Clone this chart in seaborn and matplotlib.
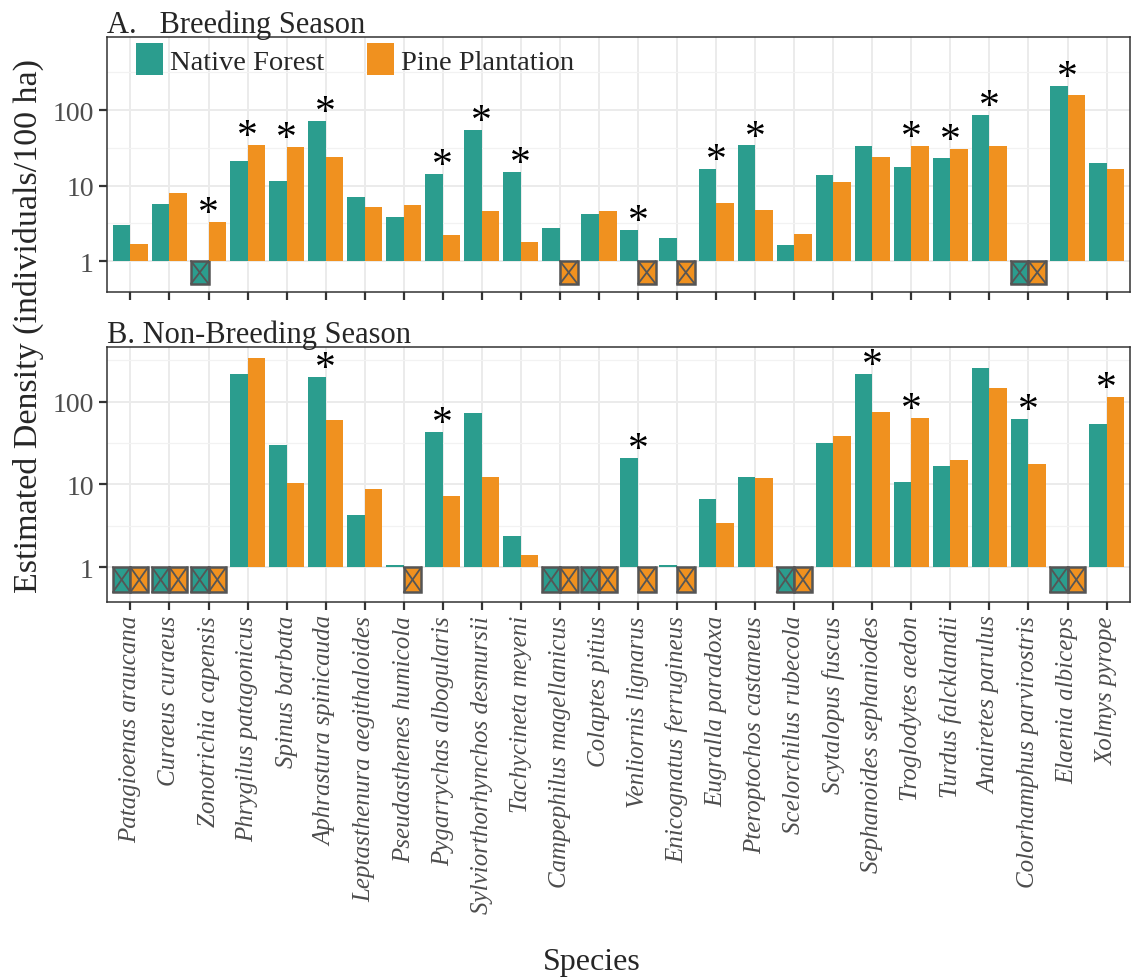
import numpy as np
import pandas as pd
import matplotlib
matplotlib.use("Agg")
import matplotlib.pyplot as plt
import matplotlib.patches as mpatches
import seaborn as sns

# species (same order in both panels)
species = ["Patagioenas araucana", "Curaeus curaeus", "Zonotrichia capensis",
           "Phrygilus patagonicus", "Spinus barbata", "Aphrastura spinicauda",
           "Leptasthenura aegithaloides", "Pseudasthenes humicola",
           "Pygarrychas albogularis", "Sylviorthorhynchos desmursii",
           "Tachycineta meyeni", "Campephilus magellanicus", "Colaptes pitius",
           "Venliornis lignarus", "Enicognatus ferrugineus", "Eugralla paradoxa",
           "Pteroptochos castaneus", "Scelorchilus rubecola", "Scytalopus fuscus",
           "Sephanoides sephaniodes", "Troglodytes aedon", "Turdus falcklandii",
           "Anairetes parulus", "Colorhamphus parvirostris", "Elaenia albiceps",
           "Xolmys pyrope"]

# estimated density (individuals/100 ha); 0 = not detected
breed_native = [3.0, 5.7, 0, 21, 11.5, 72, 7.1, 3.8, 14.2, 55, 15, 2.76, 4.2,
                2.6, 2.0, 16.7, 34, 1.63, 13.8, 33, 17.6, 22.9, 86, 0, 210, 19.8]
breed_pine = [1.7, 7.9, 3.3, 34.7, 32, 23.6, 5.2, 5.5, 2.2, 4.6, 1.77, 0, 4.6,
              0, 0, 5.9, 4.7, 2.25, 11.2, 23.8, 33.8, 30.7, 33, 0, 160, 16.8]
breed_sig = ["Zonotrichia capensis", "Phrygilus patagonicus", "Spinus barbata",
             "Aphrastura spinicauda", "Pygarrychas albogularis",
             "Sylviorthorhynchos desmursii", "Tachycineta meyeni",
             "Venliornis lignarus", "Eugralla paradoxa", "Pteroptochos castaneus",
             "Troglodytes aedon", "Turdus falcklandii", "Anairetes parulus",
             "Elaenia albiceps"]

nonbreed_native = [0, 0, 0, 214, 29.7, 199, 4.3, 1.07, 42.7, 73, 2.4, 0, 0,
                   21, 1.06, 6.7, 12.4, 0, 31.4, 214, 10.6, 16.6, 256, 61.6, 0, 53.5]
nonbreed_pine = [0, 0, 0, 333, 10.3, 59.6, 8.8, 0, 7.3, 12.3, 1.42, 0, 0,
                 0, 0, 3.43, 11.9, 0, 38, 74.5, 63, 19.6, 146, 17.8, 0, 115]
nonbreed_sig = ["Aphrastura spinicauda", "Pygarrychas albogularis",
                "Venliornis lignarus", "Sephanoides sephaniodes",
                "Troglodytes aedon", "Colorhamphus parvirostris", "Xolmys pyrope"]

habitats = ["Native Forest", "Pine Plantation"]
colors = {"Native Forest": "#2B9D8E", "Pine Plantation": "#F0911F"}


def long_table(native, pine):
    df = pd.DataFrame({"Species": species * 2,
                       "Habitat": [habitats[0]] * len(species) + [habitats[1]] * len(species),
                       "Density": native + pine})
    # zeros are drawn as a crossed box reaching down to 0.5
    df["logD"] = np.log10(df["Density"].where(df["Density"] > 0, 0.5))
    return df


sns.set_theme(style="white")
plt.rcParams["font.family"] = ["Liberation Serif", "DejaVu Serif"]

fig = plt.figure(figsize=(11.31, 9.79), dpi=100)
W, H = 1131, 979
axA = fig.add_axes([107 / W, 1 - 293 / H, 1023 / W, 255 / H])
axB = fig.add_axes([107 / W, 1 - 603 / H, 1023 / W, 255 / H])

panels = [(axA, long_table(breed_native, breed_pine), breed_sig, (-0.41, 2.967)),
          (axB, long_table(nonbreed_native, nonbreed_pine), nonbreed_sig, (-0.42, 2.66))]

for ax, df, sig, ylim in panels:
    ax.set_axisbelow(True)
    sns.barplot(data=df, x="Species", y="logD", hue="Habitat", order=species,
                hue_order=habitats, palette=colors, width=0.9, saturation=1,
                legend=False, ax=ax, errorbar=None, linewidth=0)

    for p in ax.patches:
        if p.get_height() < 0:
            p.set_edgecolor("#555555")
            p.set_linewidth(1.8)
            x0, w = p.get_x(), p.get_width()
            y0, h = p.get_y(), p.get_height()
            ax.plot([x0, x0 + w], [y0, y0 + h], color="#555555", lw=1.3, zorder=3)
            ax.plot([x0, x0 + w], [y0 + h, y0], color="#555555", lw=1.3, zorder=3)

    top = df.groupby("Species")["logD"].max()
    for i, sp in enumerate(species):
        if sp in sig:
            ax.annotate("*", (i, max(top[sp], 0)), xytext=(0, -8),
                        textcoords="offset points", ha="center", va="bottom",
                        fontsize=30, color="black")

    ax.set_xlim(-0.6, len(species) - 0.4)
    ax.set_ylim(*ylim)
    ax.set_yticks([0, 1, 2])
    ax.set_yticklabels(["1", "10", "100"])
    ax.set_yticks([0.5, 1.5, 2.5], minor=True)
    ax.set_xticks(range(len(species)))
    ax.grid(True, which="major", color="#EBEBEB", lw=1.4)
    ax.grid(True, which="minor", axis="y", color="#F2F2F2", lw=0.9)
    ax.set_xlabel("")
    ax.set_ylabel("")
    for s in ax.spines.values():
        s.set_color("#333333")
        s.set_linewidth(1.1)
    ax.tick_params(axis="both", which="major", direction="out", length=6,
                   width=1.6, color="#333333", labelsize=20, labelcolor="#4D4D4D",
                   left=True, bottom=True)
    ax.tick_params(axis="y", which="minor", left=False)

axA.set_xticklabels([])
axB.set_xticklabels(species, rotation=90, fontsize=18, style="italic",
                    color="#4D4D4D")

handles = [mpatches.Patch(facecolor=colors[h], edgecolor="none", label=h) for h in habitats]
axA.legend(handles=handles, loc="upper left", bbox_to_anchor=(0.028, 0.975),
           ncol=2, frameon=False, fontsize=20.5, handlelength=0.95,
           handleheight=1.35, handletextpad=0.25, columnspacing=1.5,
           borderaxespad=0, borderpad=0)

fig.text(107 / W, 1 - 33 / H, "A.   Breeding Season", fontsize=22, va="baseline", ha="left")
fig.text(107 / W, 1 - 343 / H, "B. Non-Breeding Season", fontsize=22, va="baseline", ha="left")
fig.text(28 / W, 1 - 326 / H, "Estimated Density (individuals/100 ha)", fontsize=24.5,
         rotation=90, va="center", ha="center")
fig.text(592 / W, 1 - 963 / H, "Species", fontsize=23, va="center", ha="center")

fig.savefig("out.png", dpi=100)
